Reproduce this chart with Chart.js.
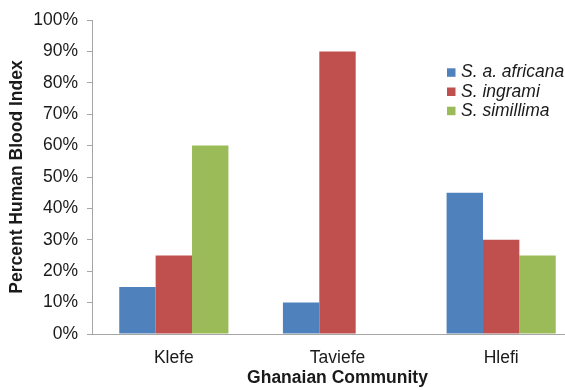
<!DOCTYPE html>
<html>
<head>
<meta charset="utf-8">
<script src="https://cdn.jsdelivr.net/npm/chart.js@4/dist/chart.umd.min.js"></script>
<style>
  html, body { margin: 0; padding: 0; background: #fff; overflow: hidden; }
  #wrap { width: 600px; height: 390px; }
</style>
</head>
<body>
<div id="wrap"><canvas id="c" width="600" height="390"></canvas></div>
<script>
// Human blood index by community and species
const communities = ['Klefe', 'Taviefe', 'Hlefi'];
const speciesNames = ['S. a. africana', 'S. ingrami', 'S. simillima'];
const africana = [15, 10, 45];
const ingrami = [25, 90, 30];
const simillima = [60, 0, 25];
const yTickLabels = ['0%', '10%', '20%', '30%', '40%', '50%', '60%', '70%', '80%', '90%', '100%'];

const colors = ['#4F81BD', '#C0504D', '#9BBB59'];
const axisGray = '#A6A6A6';
const textColor = '#1a1a1a';
const family = '"Liberation Sans", Arial, sans-serif';
const fontSize = 17.5;

// Simple in-chart legend: coloured squares with italic species names
const insideLegend = {
  id: 'insideLegend',
  afterDraw(chart) {
    const ctx = chart.ctx;
    ctx.save();
    ctx.font = 'italic ' + fontSize + 'px ' + family;
    ctx.textBaseline = 'middle';
    ctx.textAlign = 'left';
    chart.data.datasets.forEach((ds, i) => {
      const y = 72.5 + i * 19.2;
      ctx.fillStyle = ds.backgroundColor;
      ctx.fillRect(447, y - 4.2, 8.5, 8.5);
      ctx.fillStyle = textColor;
      ctx.fillText(ds.label, 461, y);
    });
    ctx.restore();
  }
};

new Chart(document.getElementById('c'), {
  type: 'bar',
  data: {
    labels: communities,
    datasets: [
      { label: speciesNames[0], data: africana, backgroundColor: colors[0] },
      { label: speciesNames[1], data: ingrami, backgroundColor: colors[1] },
      { label: speciesNames[2], data: simillima, backgroundColor: colors[2] }
    ]
  },
  options: {
    responsive: false,
    animation: false,
    devicePixelRatio: 1,
    layout: { padding: { top: 20, right: 17, left: 0, bottom: 0 } },
    datasets: { bar: { categoryPercentage: 0.667, barPercentage: 1.0, borderWidth: 0 } },
    plugins: { legend: { display: false }, tooltip: { enabled: false } },
    scales: {
      x: {
        grid: { display: false, drawTicks: false },
        border: { display: true, color: axisGray, width: 1 },
        ticks: { color: textColor, font: { family, size: fontSize }, padding: 14 },
        title: {
          display: true,
          text: 'Ghanaian Community',
          color: textColor,
          font: { family, size: fontSize, weight: 'bold', lineHeight: 1.2 },
          padding: { top: 0, bottom: 1.5 }
        },
        afterFit(scale) { scale.height = 56; }
      },
      y: {
        min: 0,
        max: 100,
        grid: { drawOnChartArea: false, drawTicks: true, tickLength: 5, color: axisGray },
        border: { display: true, color: axisGray, width: 1 },
        ticks: {
          stepSize: 10,
          padding: 9,
          color: textColor,
          font: { family, size: fontSize },
          callback: (v, i) => yTickLabels[i]
        },
        title: {
          display: true,
          text: 'Percent Human Blood Index',
          color: textColor,
          font: { family, size: fontSize, weight: 'bold', lineHeight: 1.2 },
          padding: { top: 7, bottom: 0 }
        },
        afterFit(scale) { scale.width = 92; }
      }
    }
  },
  plugins: [insideLegend]
});
</script>
</body>
</html>
